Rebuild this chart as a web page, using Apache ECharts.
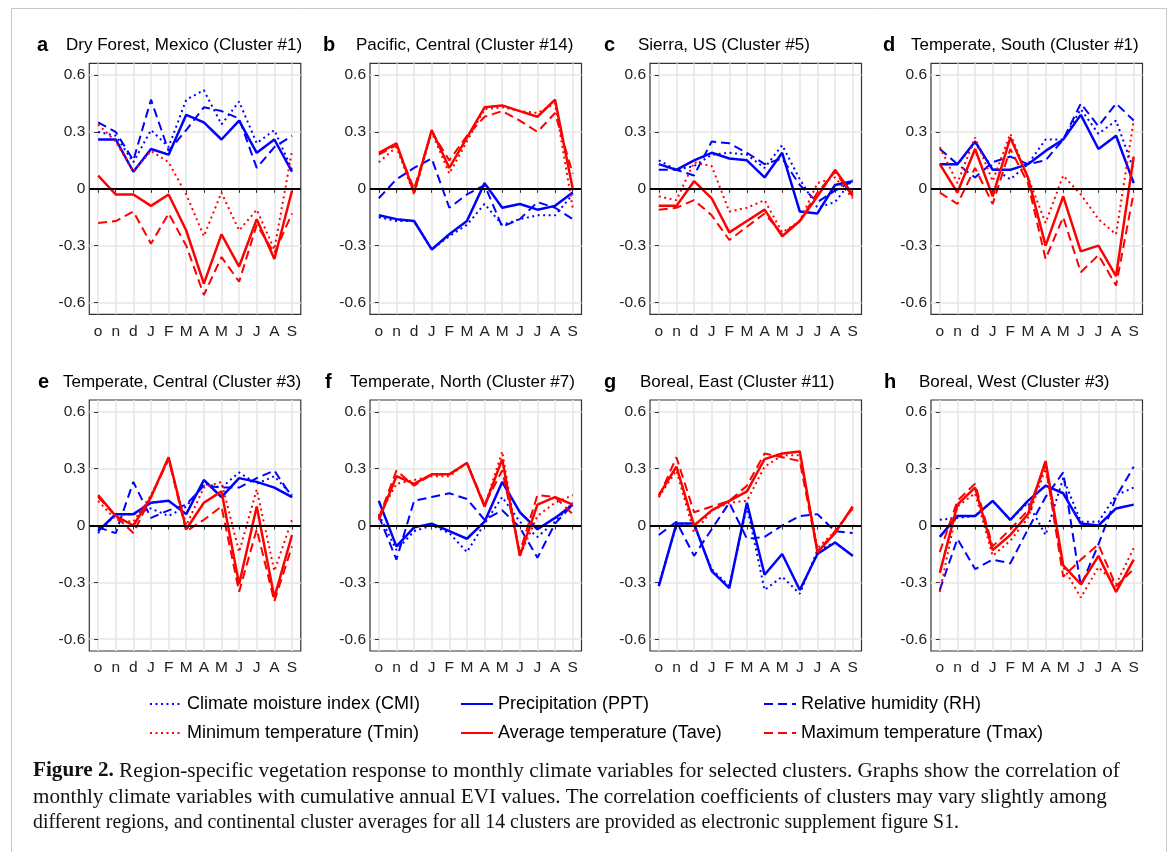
<!DOCTYPE html>
<html><head><meta charset="utf-8">
<script src="https://cdn.jsdelivr.net/npm/echarts@6/dist/echarts.min.js"></script>
<style>html,body{margin:0;padding:0;background:#fff}#c{width:1173px;height:852px}</style>
</head><body><div id="c"></div><script>
// ---------- data ----------
const months = ['o','n','d','J','F','M','A','M','J','J','A','S'];
const yTicks = [-0.6, -0.3, 0, 0.3, 0.6];
const panelLetters = ['a','b','c','d','e','f','g','h'];
const panelTitles = ['Dry Forest, Mexico (Cluster #1)','Pacific, Central (Cluster #14)','Sierra, US (Cluster #5)','Temperate, South (Cluster #1)',
  'Temperate, Central (Cluster #3)','Temperate, North (Cluster #7)','Boreal, East (Cluster #11)','Boreal, West (Cluster #3)'];
const seriesNames = ['Climate moisture index (CMI)','Precipitation (PPT)','Relative humidity (RH)',
  'Minimum temperature (Tmin)','Average temperature (Tave)','Maximum temperature (Tmax)'];

const aCMI  = [0.30, 0.28, 0.14, 0.31, 0.22, 0.47, 0.52, 0.34, 0.46, 0.24, 0.31, 0.10];
const aPPT  = [0.26, 0.26, 0.09, 0.21, 0.18, 0.39, 0.35, 0.26, 0.36, 0.19, 0.26, 0.09];
const aRH   = [0.35, 0.30, 0.15, 0.47, 0.20, 0.31, 0.43, 0.41, 0.37, 0.11, 0.22, 0.28];
const aTmin = [0.34, 0.25, 0.09, 0.20, 0.14, -0.03, -0.25, -0.02, -0.22, -0.11, -0.32, 0.20];
const aTave = [0.07, -0.03, -0.03, -0.09, -0.03, -0.22, -0.50, -0.24, -0.41, -0.16, -0.37, -0.01];
const aTmax = [-0.18, -0.17, -0.12, -0.29, -0.13, -0.30, -0.56, -0.36, -0.49, -0.19, -0.34, -0.13];

const bCMI  = [-0.15, -0.17, -0.17, -0.32, -0.25, -0.19, -0.08, -0.19, -0.16, -0.14, -0.14, -0.03];
const bPPT  = [-0.14, -0.16, -0.17, -0.32, -0.24, -0.17, 0.03, -0.10, -0.08, -0.11, -0.09, -0.02];
const bRH   = [-0.05, 0.05, 0.11, 0.16, -0.10, -0.03, 0.02, -0.20, -0.16, -0.07, -0.10, -0.16];
const bTmin = [0.14, 0.22, -0.03, 0.30, 0.08, 0.25, 0.42, 0.43, 0.41, 0.40, 0.45, -0.10];
const bTave = [0.19, 0.24, -0.02, 0.31, 0.11, 0.27, 0.43, 0.44, 0.41, 0.38, 0.47, 0.00];
const bTmax = [0.18, 0.23, 0.00, 0.30, 0.15, 0.28, 0.38, 0.41, 0.36, 0.30, 0.40, 0.08];

const cCMI  = [0.15, 0.10, 0.12, 0.18, 0.19, 0.18, 0.11, 0.23, 0.05, -0.10, -0.07, 0.05];
const cPPT  = [0.13, 0.10, 0.15, 0.19, 0.16, 0.15, 0.06, 0.19, -0.12, -0.13, 0.02, 0.04];
const cRH   = [0.10, 0.10, 0.07, 0.25, 0.24, 0.19, 0.13, 0.16, 0.02, -0.07, -0.01, 0.04];
const cTmin = [-0.04, -0.06, 0.14, 0.12, -0.12, -0.10, -0.06, -0.23, -0.17, 0.03, 0.06, -0.05];
const cTave = [-0.09, -0.09, 0.04, -0.05, -0.23, -0.17, -0.11, -0.25, -0.17, -0.04, 0.10, -0.03];
const cTmax = [-0.11, -0.10, -0.06, -0.14, -0.27, -0.20, -0.13, -0.24, -0.17, -0.02, 0.09, -0.04];

const dCMI  = [0.13, 0.13, 0.24, 0.11, 0.05, 0.13, 0.26, 0.26, 0.42, 0.29, 0.36, 0.10];
const dPPT  = [0.13, 0.13, 0.25, 0.10, 0.10, 0.13, 0.20, 0.26, 0.39, 0.21, 0.28, 0.03];
const dRH   = [0.21, 0.13, 0.06, 0.14, 0.17, 0.13, 0.15, 0.26, 0.45, 0.33, 0.45, 0.36];
const dTmin = [0.22, 0.03, 0.27, 0.04, 0.29, 0.06, -0.18, 0.07, -0.03, -0.16, -0.24, 0.36];
const dTave = [0.13, -0.02, 0.21, -0.04, 0.27, 0.06, -0.30, -0.04, -0.33, -0.30, -0.46, 0.17];
const dTmax = [-0.02, -0.08, 0.11, -0.08, 0.21, 0.03, -0.37, -0.15, -0.44, -0.35, -0.51, -0.02];

const eCMI  = [-0.04, 0.06, 0.06, 0.09, 0.05, 0.10, 0.22, 0.20, 0.28, 0.22, 0.26, 0.16];
const ePPT  = [-0.03, 0.06, 0.06, 0.12, 0.13, 0.06, 0.24, 0.15, 0.25, 0.23, 0.20, 0.15];
const eRH   = [-0.01, -0.04, 0.23, 0.04, 0.08, 0.11, 0.21, 0.20, 0.20, 0.25, 0.29, 0.15];
const eTmin = [0.13, 0.03, 0.02, 0.16, 0.35, 0.00, 0.20, 0.23, -0.14, 0.19, -0.24, 0.03];
const eTave = [0.16, 0.05, 0.00, 0.15, 0.36, -0.02, 0.12, 0.18, -0.31, 0.10, -0.38, -0.05];
const eTmax = [0.15, 0.05, -0.04, 0.15, 0.35, -0.03, 0.03, 0.10, -0.35, -0.02, -0.40, -0.11];

const fCMI  = [0.06, -0.13, -0.03, 0.00, -0.04, -0.14, 0.01, 0.15, 0.02, -0.06, 0.02, 0.12];
const fPPT  = [0.13, -0.11, -0.01, 0.01, -0.03, -0.07, 0.02, 0.23, 0.07, -0.02, 0.04, 0.11];
const fRH   = [0.05, -0.18, 0.13, 0.15, 0.17, 0.14, 0.03, 0.08, -0.01, -0.17, 0.01, 0.11];
const fTmin = [0.05, 0.22, 0.24, 0.26, 0.26, 0.33, 0.10, 0.39, -0.16, 0.05, 0.12, 0.16];
const fTave = [0.03, 0.26, 0.22, 0.27, 0.27, 0.33, 0.10, 0.35, -0.16, 0.11, 0.15, 0.11];
const fTmax = [0.04, 0.29, 0.21, 0.27, 0.27, 0.33, 0.11, 0.29, -0.14, 0.16, 0.15, 0.06];

const gCMI  = [-0.31, 0.00, 0.00, -0.23, -0.32, 0.10, -0.34, -0.27, -0.36, -0.13, -0.09, -0.16];
const gPPT  = [-0.32, 0.01, 0.01, -0.24, -0.33, 0.12, -0.26, -0.15, -0.34, -0.15, -0.09, -0.16];
const gRH   = [-0.05, 0.02, -0.16, -0.02, 0.12, -0.07, -0.06, 0.00, 0.05, 0.06, -0.03, -0.04];
const gTmin = [0.15, 0.29, -0.04, 0.08, 0.12, 0.13, 0.31, 0.37, 0.37, -0.12, -0.03, 0.09];
const gTave = [0.16, 0.31, 0.00, 0.08, 0.13, 0.18, 0.35, 0.38, 0.39, -0.14, -0.04, 0.10];
const gTmax = [0.15, 0.36, 0.07, 0.10, 0.13, 0.21, 0.38, 0.36, 0.34, -0.14, -0.03, 0.09];

const hCMI  = [0.03, 0.04, 0.05, 0.13, 0.03, 0.12, -0.05, 0.25, 0.02, 0.02, 0.16, 0.20];
const hPPT  = [-0.06, 0.05, 0.05, 0.13, 0.03, 0.13, 0.21, 0.17, 0.01, 0.00, 0.09, 0.11];
const hRH   = [-0.34, -0.07, -0.23, -0.18, -0.20, -0.02, 0.15, 0.28, -0.32, -0.10, 0.15, 0.31];
const hTmin = [-0.35, 0.10, 0.17, -0.16, -0.08, 0.04, 0.30, -0.22, -0.38, -0.22, -0.31, -0.12];
const hTave = [-0.25, 0.11, 0.20, -0.13, -0.05, 0.06, 0.34, -0.21, -0.31, -0.16, -0.35, -0.18];
const hTmax = [-0.14, 0.13, 0.22, -0.11, -0.02, 0.08, 0.32, -0.27, -0.18, -0.10, -0.32, -0.23];

const panelData = [
  [aCMI, aPPT, aRH, aTmin, aTave, aTmax],
  [bCMI, bPPT, bRH, bTmin, bTave, bTmax],
  [cCMI, cPPT, cRH, cTmin, cTave, cTmax],
  [dCMI, dPPT, dRH, dTmin, dTave, dTmax],
  [eCMI, ePPT, eRH, eTmin, eTave, eTmax],
  [fCMI, fPPT, fRH, fTmin, fTave, fTmax],
  [gCMI, gPPT, gRH, gTmin, gTave, gTmax],
  [hCMI, hPPT, hRH, hTmin, hTave, hTmax]
];

// ---------- layout & styles ----------
const FONT = 'Liberation Sans, Arial, sans-serif';
const SERIF = 'Liberation Serif, Times New Roman, serif';
const gridLefts = [89.3, 370, 650, 931];
const gridTops = [63.3, 400];
const GW = 211.5, GH = 251;
const letterX = [37, 323, 604, 883, 38, 325, 604, 884];
const titleX = [66, 356, 638, 911, 63, 350, 640, 919];
const titleY = [45, 382];
const BLUE = '#0000FF', RED = '#FF0000';
const lineStyles = [
  {color: BLUE, width: 2, type: [2, 3.5]},
  {color: BLUE, width: 2.5, type: 'solid'},
  {color: BLUE, width: 2, type: [9, 5]},
  {color: RED, width: 2, type: [2, 3.5]},
  {color: RED, width: 2.5, type: 'solid'},
  {color: RED, width: 2, type: [9, 5]}
];
const xIdx = months.map((m, i) => i);

const grids = [], xAxes = [], yAxes = [], series = [], graphics = [];
for (let p = 0; p < 8; p++) {
  const col = p % 4, row = Math.floor(p / 4);
  grids.push({left: gridLefts[col], top: gridTops[row], width: GW, height: GH,
    show: true, borderColor: '#333', borderWidth: 1.2, backgroundColor: 'transparent', containLabel: false});
  xAxes.push({type: 'value', gridIndex: p, min: -0.5, max: 11.5,
    axisLine: {show: false},
    axisTick: {show: true, customValues: xIdx, length: 4, lineStyle: {color: '#333', width: 1}},
    axisLabel: {customValues: xIdx, formatter: v => months[Math.round(v)], fontFamily: FONT, fontSize: 15.5, color: '#222', margin: 9},
    splitLine: {show: true, lineStyle: {color: '#e6e6e6', width: 1.5}}});
  yAxes.push({type: 'value', gridIndex: p, min: -0.662, max: 0.662,
    axisLine: {show: false},
    axisTick: {show: true, customValues: yTicks, length: 4, lineStyle: {color: '#333', width: 1}},
    axisLabel: {customValues: yTicks, formatter: v => (Math.abs(v) < 1e-9 ? '0' : v.toFixed(1)), fontFamily: FONT, fontSize: 15.5, color: '#222', margin: 4},
    splitLine: {show: true, lineStyle: {color: '#e6e6e6', width: 1.5}}});
  panelData[p].forEach((arr, k) => {
    const s = {name: seriesNames[k], type: 'line', xAxisIndex: p, yAxisIndex: p,
      data: arr.map((v, i) => [xIdx[i], v]), symbol: 'none', silent: true, animation: false,
      lineStyle: Object.assign({}, lineStyles[k]), itemStyle: {color: lineStyles[k].color}, z: 3};
    if (k === 0) {
      s.markLine = {silent: true, symbol: ['none', 'none'], label: {show: false}, animation: false,
        lineStyle: {color: '#000', width: 2, type: 'solid'}, data: [{yAxis: 0}]};
    }
    series.push(s);
  });
  graphics.push({type: 'text', x: letterX[p], y: titleY[row],
    style: {text: panelLetters[p], font: 'bold 20px ' + FONT, fill: '#000', verticalAlign: 'middle'}});
  graphics.push({type: 'text', x: titleX[p], y: titleY[row],
    style: {text: panelTitles[p], font: '17px ' + FONT, fill: '#000', verticalAlign: 'middle'}});
}

// legends: one per entry, 3 columns x 2 rows
const legendLeft = [144, 455, 758];
const legendTop = [690, 719];
const legends = seriesNames.map((n, k) => ({
  data: [n], left: legendLeft[k % 3], top: legendTop[Math.floor(k / 3)],
  itemWidth: 32, itemHeight: 16, selectedMode: false,
  itemStyle: {opacity: 0, borderWidth: 0},
  textStyle: {fontFamily: FONT, fontSize: 18, color: '#000'}
}));

// caption
const captionLines = [
  '{b|Figure 2.} Region-specific vegetation response to monthly climate variables for selected clusters. Graphs show the correlation of',
  'monthly climate variables with cumulative annual EVI values. The correlation coefficients of clusters may vary slightly among',
  'different regions, and continental cluster averages for all 14 clusters are provided as electronic supplement figure S1.'
];
const captionY = [771, 797, 822];
const captionScale = [1.0, 0.996, 0.935];
const CAP = 21.2;
captionLines.forEach((t, i) => {
  graphics.push({type: 'text', x: 33, y: captionY[i], scaleX: captionScale[i],
    style: {text: t, fontFamily: SERIF, fontSize: CAP, fill: '#111', verticalAlign: 'middle',
      rich: {b: {fontFamily: SERIF, fontSize: CAP, fontWeight: 'bold', fill: '#111'}}}});
});
// frame
graphics.push({type: 'rect', shape: {x: 11.5, y: 8.5, width: 1155, height: 900},
  style: {fill: 'none', stroke: '#c8c8c8', lineWidth: 1}, silent: true, z: -1});

const chart = echarts.init(document.getElementById('c'), null, {renderer: 'canvas'});
chart.setOption({
  animation: false,
  backgroundColor: '#fff',
  grid: grids, xAxis: xAxes, yAxis: yAxes, series: series,
  legend: legends,
  graphic: graphics
});
</script></body></html>
